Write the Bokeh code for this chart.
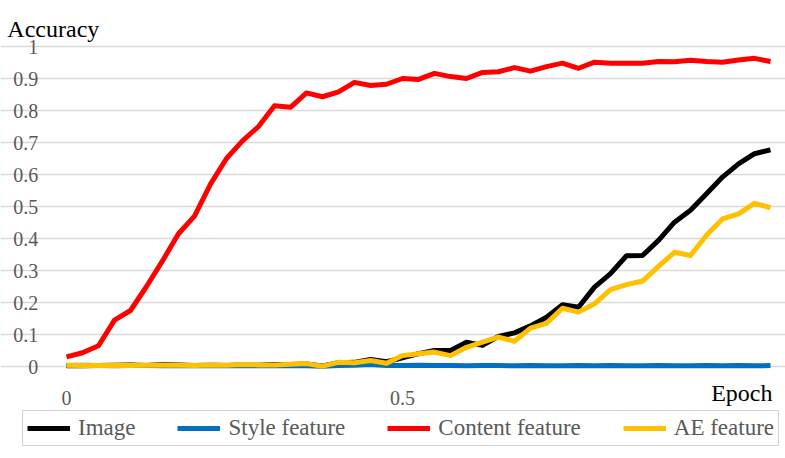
from bokeh.plotting import figure
from bokeh.models import (Legend, LegendItem, FixedTicker, Grid, Label, Range1d)
from bokeh.core.properties import value
from bokeh.embed import file_html
from bokeh.resources import INLINE

# ---- data ----
epoch = [i / 42 for i in range(45)]

image = [0.002, 0.002, 0.003, 0.004, 0.005, 0.003, 0.006, 0.005, 0.003, 0.004,
         0.003, 0.005, 0.004, 0.006, 0.006, 0.008, 0.002, 0.012, 0.013, 0.022,
         0.015, 0.027, 0.040, 0.050, 0.050, 0.076, 0.066, 0.094, 0.105, 0.127,
         0.154, 0.193, 0.185, 0.248, 0.290, 0.346, 0.347, 0.394, 0.451, 0.488,
         0.540, 0.592, 0.633, 0.665, 0.677]

style = [0.003, 0.004, 0.003, 0.002, 0.003, 0.003, 0.002, 0.003, 0.002, 0.002,
         0.003, 0.002, 0.002, 0.003, 0.002, 0.002, 0.001, 0.003, 0.004, 0.006,
         0.003, 0.003, 0.004, 0.003, 0.003, 0.002, 0.003, 0.003, 0.002, 0.003,
         0.002, 0.002, 0.003, 0.002, 0.003, 0.002, 0.002, 0.003, 0.002, 0.002,
         0.003, 0.002, 0.003, 0.002, 0.003]

content = [0.030, 0.043, 0.065, 0.145, 0.175, 0.250, 0.330, 0.415, 0.470, 0.570,
           0.650, 0.705, 0.750, 0.815, 0.810, 0.855, 0.843, 0.858, 0.888, 0.878,
           0.882, 0.900, 0.897, 0.916, 0.906, 0.900, 0.919, 0.921, 0.934, 0.923,
           0.937, 0.948, 0.932, 0.951, 0.948, 0.948, 0.948, 0.953, 0.952, 0.957,
           0.953, 0.951, 0.958, 0.963, 0.953]

ae = [0.004, 0.003, 0.003, 0.004, 0.003, 0.004, 0.005, 0.004, 0.003, 0.005,
      0.004, 0.006, 0.005, 0.005, 0.007, 0.009, 0.001, 0.013, 0.012, 0.019,
      0.010, 0.034, 0.040, 0.045, 0.034, 0.060, 0.076, 0.092, 0.079, 0.120,
      0.135, 0.182, 0.170, 0.196, 0.240, 0.256, 0.267, 0.313, 0.357, 0.347,
      0.410, 0.461, 0.477, 0.510, 0.496]

series_names = ["Image", "Style feature", "Content feature", "AE feature"]
series_values = [image, style, content, ae]
series_colors = ["#000000", "#0070C0", "#FF0000", "#FFC000"]

y_ticks = [0, 0.1, 0.2, 0.3, 0.4, 0.5, 0.6, 0.7, 0.8, 0.9, 1]
y_tick_labels = ["0", "0.1", "0.2", "0.3", "0.4", "0.5", "0.6", "0.7", "0.8", "0.9", "1"]
x_ticks = [0, 0.5]
x_tick_labels = ["0", "0.5"]

FONT = "Liberation Serif"

# frame covers whole canvas; ranges chosen so that the plot area sits where
# the reference has it (x: 0 -> 66px, 0.5 -> 402px; y: 0 -> 366px, 1 -> 46px)
p = figure(width=785, height=458, output_backend="svg", toolbar_location=None,
           x_range=Range1d(-0.09821, 1.06994), y_range=Range1d(-0.2875, 1.14375),
           x_axis_location=None, y_axis_location=None,
           min_border_left=0, min_border_right=0, min_border_top=0,
           min_border_bottom=0)
p.outline_line_color = None
p.background_fill_color = "white"
for g in p.grid:
    g.visible = False

grid = Grid(dimension=1, ticker=FixedTicker(ticks=y_ticks),
            grid_line_color="#d9d9d9", grid_line_width=1.3,
            bounds=(-0.0119, 1.0595))
p.add_layout(grid)

# tick labels
p.text(x=[-0.042] * len(y_ticks), y=y_ticks, text=y_tick_labels,
       text_font=value(FONT), text_font_size="20px", text_color="#595959",
       text_align="right", text_baseline="middle")
p.text(x=x_ticks, y=[-0.098] * len(x_ticks), text=x_tick_labels,
       text_font=value(FONT), text_font_size="20px", text_color="#595959",
       text_align="center", text_baseline="middle")

items = []
for name, vals, col in zip(series_names, series_values, series_colors):
    r = p.line(epoch, vals, line_color=col, line_width=5, line_join="round")
    items.append(LegendItem(label=name, renderers=[r]))

legend = Legend(items=items, orientation="horizontal", location=(22, 12),
                label_text_font=FONT, label_text_font_size="23px",
                label_text_color="#595959", glyph_width=43, glyph_height=20,
                label_standoff=8, spacing=42, padding=4, margin=0,
                border_line_color="#a6a6a6", border_line_width=1.3,
                background_fill_alpha=1)
p.add_layout(legend)

p.add_layout(Label(x=-0.088, y=1.056, text="Accuracy", text_font=FONT,
                   text_font_size="24px", text_color="#000000",
                   text_baseline="alphabetic"))
p.add_layout(Label(x=1.0506, y=-0.084, text="Epoch", text_font=FONT,
                   text_font_size="24px", text_color="#000000",
                   text_align="right", text_baseline="alphabetic"))

open("out.html", "w").write(file_html(p, INLINE))
